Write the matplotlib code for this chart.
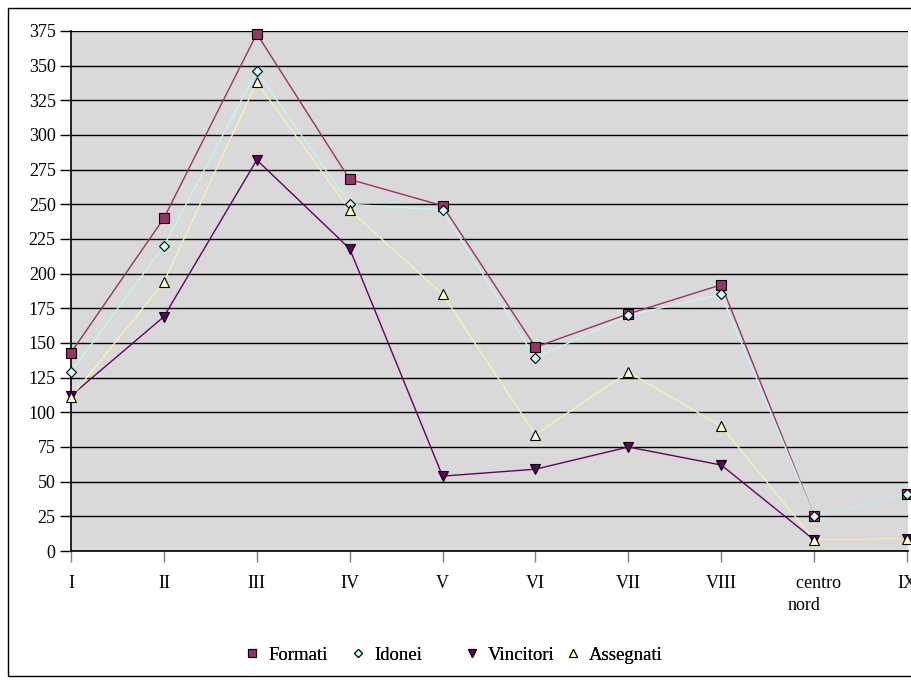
import numpy as np
import matplotlib
import matplotlib.pyplot as plt
from matplotlib.lines import Line2D
from matplotlib.patches import Rectangle

matplotlib.use("Agg")
plt.rcParams["font.family"] = ["Liberation Serif", "DejaVu Serif"]

categories = ["I", "II", "III", "IV", "V", "VI", "VII", "VIII", "  centro\nnord", "IX"]
formati = [143, 240, 373, 268, 249, 147, 171, 192, 25, 41]
idonei = [129, 220, 346, 250, 246, 139, 170, 185, 25, 41]
vincitori = [112, 169, 282, 218, 54, 59, 75, 62, 8, 9]
assegnati = [111, 194, 338, 246, 185, 84, 129, 90, 8, 9]

# name, values, line colour, marker, marker size, colour of the centro nord -> IX segment
series = [
  ("Formati", formati, "#993366", "s", 7, None),
  ("Idonei", idonei, "#C4F4F4", "D", 5, "#BEEAF0"),
  ("Vincitori", vincitori, "#660066", "v", 7.5, "#D4AEB8"),
  ("Assegnati", assegnati, "#F6F2B0", "^", 7.5, "#F2E8B8"),
]
fills = {"Formati": "#993366", "Idonei": "#CCFFFF", "Vincitori": "#660066", "Assegnati": "#FFFFCC"}
legend_x = [252, 358, 472, 573]  # marker centres of the legend entries, px


def main():
  fig = plt.figure(figsize=(9.12, 6.81), dpi=100)
  fig.patch.set_facecolor("white")
  ax = fig.add_axes([71 / 912, 1 - 551 / 681, 837 / 912, 520 / 681])
  ax.set_facecolor("#D9D9D9")

  x = np.arange(len(categories))
  handles = []
  for name, vals, col, mk, ms, lastcol in series:
    vals = np.array(vals, dtype=float)
    ax.plot(x[:-1], vals[:-1], color=col, lw=1.0, zorder=3)
    # last segment (centro nord -> IX)
    if lastcol is not None:
      if name == "Idonei":
        ax.plot(x[-2:], vals[-2:], color=lastcol, lw=1.8, ls=(0, (2, 1.5)), zorder=3)
      else:
        ax.plot(x[-2:], vals[-2:], color=lastcol, lw=1.2, zorder=3)
    ax.plot(x, vals, ls="none", marker=mk, ms=ms, mfc=fills[name], mec="black",
            mew=0.8, zorder=4, clip_on=False)
    handles.append(Line2D([], [], ls="none", marker=mk, ms=ms * 0.85, mfc=fills[name],
                          mec="black", mew=0.8, label=name))

  ax.set_xlim(0, 9.01)
  ax.set_ylim(0, 375)
  ax.set_yticks(np.arange(0, 376, 25))
  ax.set_xticks(x)
  ax.set_xticklabels(categories, fontsize=13, linespacing=1.4, multialignment="left")
  ax.tick_params(axis="y", labelsize=13, length=8, width=1, direction="out", pad=3)
  ax.tick_params(axis="x", length=8, width=1, color="#808080", direction="out", pad=9)

  ax.grid(axis="y", color="black", lw=1.0)
  ax.set_axisbelow(True)
  for side in ["top", "right"]:
    ax.spines[side].set_visible(False)
  ax.spines["left"].set_linewidth(1.2)
  ax.spines["bottom"].set_linewidth(1.2)

  # one legend per entry, placed along the bottom
  fs = 13.5
  half = 0.5 * fs * 100 / 72
  for h, mx in zip(handles, legend_x):
    lg = fig.legend(handles=[h], loc="center left",
                    bbox_to_anchor=((mx - half) / 912, 1 - 655 / 681),
                    frameon=False, fontsize=fs, handletextpad=0.36, handlelength=1.0,
                    borderpad=0, borderaxespad=0)
    fig.add_artist(lg)

  # outer chart frame
  fig.patches.append(Rectangle((8 / 912, 1 - 676 / 681), 1.0, 668 / 681,
                               transform=fig.transFigure, fill=False,
                               edgecolor="black", lw=1.0))

  fig.savefig("out.png", dpi=100)


if __name__ == '__main__':
  main()
